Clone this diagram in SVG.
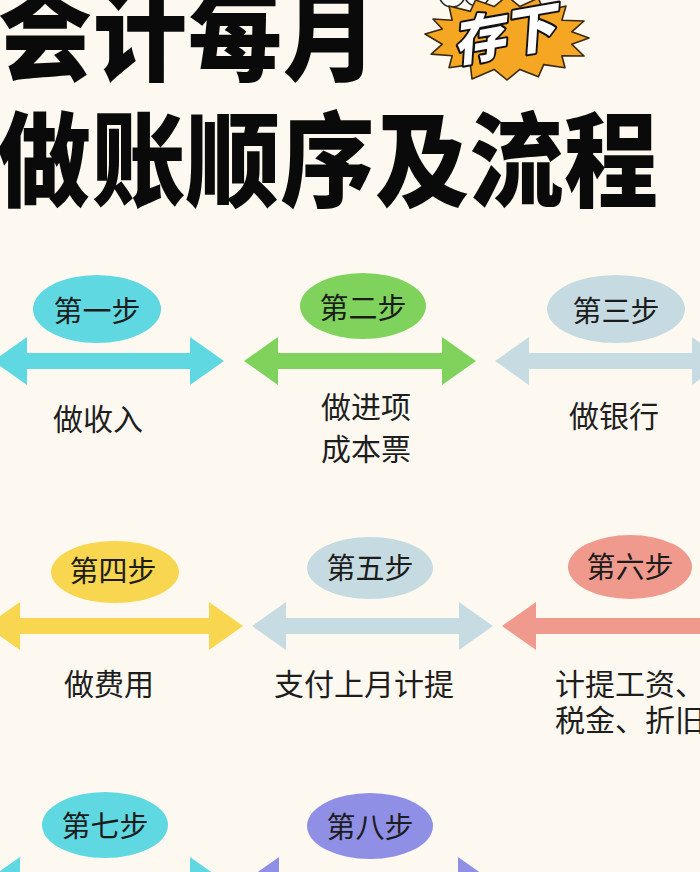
<svg xmlns="http://www.w3.org/2000/svg" width="700" height="872" viewBox="0 0 700 872">
<style>
.title{font-family:"Noto Sans CJK SC","Noto Sans CJK JP",sans-serif;font-weight:900;font-size:94px;fill:#0a0a0a}
.step{font-family:"Noto Sans CJK SC","Noto Sans CJK JP",sans-serif;font-weight:400;font-size:29px;fill:#1c1c1c;text-anchor:middle}
.desc{font-family:"Noto Sans CJK SC","Noto Sans CJK JP",sans-serif;font-weight:400;font-size:30px;fill:#1e1e1e}
.mid{text-anchor:middle}
.badge{font-family:"Noto Sans CJK SC","Noto Sans CJK JP",sans-serif;font-weight:900;font-size:52px;fill:#ffffff;stroke:#111;stroke-width:4;paint-order:stroke;stroke-linejoin:round}
.cyan{fill:#5fd8e2}.green{fill:#7fd35c}.grey{fill:#c7dce2}.yellow{fill:#f8d64f}.salmon{fill:#f09a8e}.purple{fill:#8f8fe6}
</style>
<rect width="700" height="872" fill="#fdf9f0"/>

<g id="title">
<text class="title" transform="translate(-2,73) scale(1,1.1)" x="0" y="0" letter-spacing="1">会计每月</text>
<text class="title" transform="translate(-3,199) scale(1,1.1)" x="0" y="0" letter-spacing="0.5">做账顺序及流程</text>
</g>

<g id="badge">
<circle cx="452" cy="-6" r="13" fill="#fff" stroke="#222" stroke-width="1.5"/>
<circle cx="477" cy="-7" r="13" fill="#fff" stroke="#222" stroke-width="1.5"/>
<polygon points="589,38 571.7,44.2 584,56 561.9,55.8 565,67.7 543.7,64.6 538.4,76.8 519.9,69.4 507,80 494.1,69.4 472,79 470.3,64.6 449,67.7 452.2,55.8 431.2,54.1 442.3,44.2 425,34 442.3,29 433,19 452.2,20.2 449,6 470.3,11.4 475.6,0 494.1,6.6 507,-4 519.9,6.6 538.4,-2 543.7,11.4 566,6 561.9,20.2 584,21 571.7,31.8" fill="#f5a623" stroke="#3a2a12" stroke-width="1.6" stroke-linejoin="round"/>
<text class="badge" transform="translate(456,62) rotate(-10) skewX(-14)" x="0" y="0">存下</text>
</g>

<g id="connectors">
<polygon class="cyan" points="-7,361 27,337 27,353 190,353 190,337 224,361 190,385 190,369 27,369 27,385"/>
<polygon class="green" points="244,361 278,337 278,353 442,353 442,337 476,361 442,385 442,369 278,369 278,385"/>
<polygon class="grey" points="495,361 529,337 529,353 692,353 692,337 726,361 692,385 692,369 529,369 529,385"/>
<polygon class="yellow" points="-14,626 20,602 20,618 209,618 209,602 243,626 209,650 209,634 20,634 20,650"/>
<polygon class="grey" points="252,626 286,602 286,618 459,618 459,602 493,626 459,650 459,634 286,634 286,650"/>
<polygon class="salmon" points="502,626 536,602 536,618 706,618 706,602 740,626 706,650 706,634 536,634 536,650"/>
<polygon class="cyan" points="-14,881 20,857 20,873 190,873 190,857 224,881 190,905 190,889 20,889 20,905"/>
<polygon class="purple" points="245,881 279,857 279,873 458,873 458,857 492,881 458,905 458,889 279,889 279,905"/>
</g>

<g id="step1">
<ellipse class="cyan" cx="97" cy="309" rx="64" ry="34"/>
<text class="step" x="97" y="322">第一步</text>
<text class="desc mid" x="98" y="430">做收入</text>
</g>
<g id="step2">
<ellipse class="green" cx="363" cy="306" rx="63" ry="33"/>
<text class="step" x="363" y="319">第二步</text>
<text class="desc mid" x="366" y="418">做进项</text>
<text class="desc mid" x="366" y="460">成本票</text>
</g>
<g id="step3">
<ellipse fill="#c5dae1" cx="616" cy="309" rx="69" ry="34"/>
<text class="step" x="616" y="322">第三步</text>
<text class="desc mid" x="614" y="427">做银行</text>
</g>
<g id="step4">
<ellipse class="yellow" cx="115" cy="572" rx="64" ry="31"/>
<text class="step" x="113" y="582">第四步</text>
<text class="desc mid" x="109" y="695">做费用</text>
</g>
<g id="step5">
<ellipse fill="#c6dbe1" cx="370" cy="568" rx="63" ry="31"/>
<text class="step" x="370" y="579">第五步</text>
<text class="desc mid" x="364" y="695">支付上月计提</text>
</g>
<g id="step6">
<ellipse class="salmon" cx="630" cy="567" rx="62" ry="32"/>
<text class="step" x="630" y="578">第六步</text>
<text class="desc" x="555" y="695">计提工资、</text>
<text class="desc" x="555" y="731">税金、折旧</text>
</g>
<g id="step7">
<ellipse class="cyan" cx="105" cy="825" rx="63" ry="33"/>
<text class="step" x="105" y="837">第七步</text>
</g>
<g id="step8">
<ellipse class="purple" cx="370" cy="826" rx="63" ry="33"/>
<text class="step" x="370" y="838">第八步</text>
</g>
</svg>
